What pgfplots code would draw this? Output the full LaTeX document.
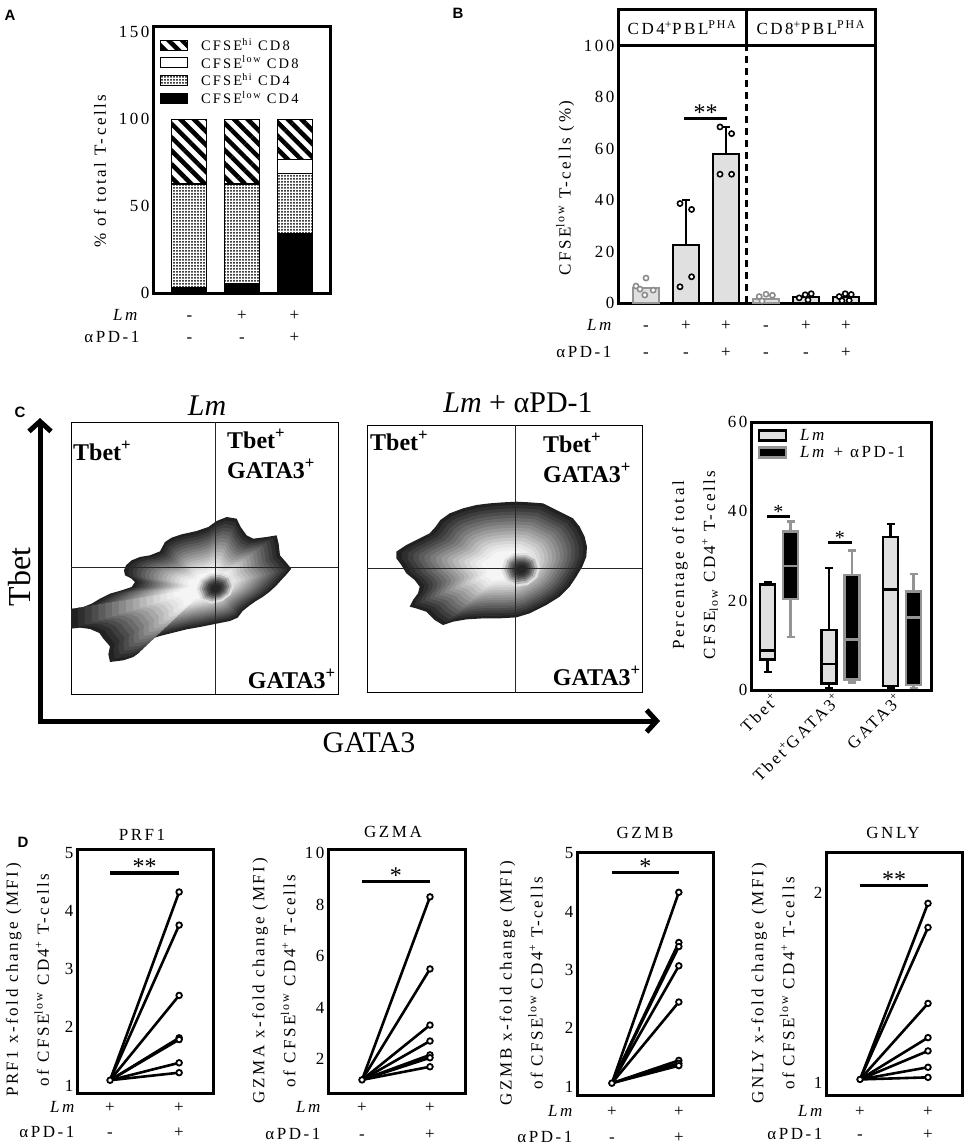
\documentclass[border=0pt]{standalone}
\usepackage{fontspec}
\setmainfont{Liberation Serif}
\newfontfamily\trk{Liberation Serif}[LetterSpace=15]
\newfontfamily\lsans{Liberation Sans}
\usepackage{pgfplots}
\usepackage{pgfplotstable}
\pgfplotsset{compat=1.18}
\usepgfplotslibrary{statistics}
\usetikzlibrary{patterns.meta,arrows.meta}

\newcommand{\tf}{\trk\fontsize{17}{20}\selectfont}
\newcommand{\tftwo}{\trk\fontsize{17}{31}\selectfont}
\newcommand{\starf}{\fontsize{24}{24}\selectfont}

\tikzset{sig/.style={line width=3.5pt}}
\pgfplotsset{
 myax/.style={scale only axis, anchor=north west, axis line style={line width=3pt},
   major tick length=0pt, tick style={draw=none},
   /pgf/number format/assume math mode=true,
   tick label style={font=\tf}, ylabel style={font=\tf}, clip=false},
 boxleg/.style={legend image code/.code={\draw[##1] (0pt,-5pt) rectangle (27pt,5pt); \path (38pt,0pt);}},
 pair/.style={black, line width=2.6pt, mark=none, forget plot},
 dots/.style={only marks, mark=*, mark size=2.8pt, mark options={fill=white, draw=black, line width=1.8pt}, forget plot},
 flowax/.style={scale only axis, anchor=north west, xtick=\empty, ytick=\empty, y dir=reverse, axis line style={line width=1pt}, clip=true},
}

% outlines of the density plots (reference pixel coordinates, 3x)
\pgfplotstableread{
x y
213 715
245 712
275 700
300 685
330 670
365 660
395 650
405 635
395 625
375 615
372 600
378 585
395 570
420 560
450 555
480 543
495 515
515 502
545 492
590 482
625 470
650 452
680 440
710 445
722 470
740 495
760 505
800 500
830 495
836 520
840 555
860 578
874 595
860 612
845 628
828 647
808 665
788 680
768 692
748 706
728 722
713 742
690 752
650 760
600 770
560 777
520 787
480 797
450 807
430 827
418 847
400 860
370 870
330 875
325 852
330 828
310 805
298 788
270 776
240 772
213 775
}\blobA
\pgfplotstableread{
x y
590 655
602 627
630 610
662 607
692 618
703 645
692 673
667 692
635 700
604 690
}\spotA
\pgfplotstableread{
x y
200 545
230 525
270 505
300 490
318 470
332 450
360 430
400 415
440 405
480 400
520 397
560 395
600 397
640 400
670 415
700 430
730 445
750 470
765 500
772 530
770 560
758 590
740 620
720 650
690 680
650 705
600 730
560 742
510 745
460 745
410 748
370 755
340 765
315 750
290 725
260 715
240 710
250 690
265 670
270 650
255 630
230 610
215 585
200 565
}\blobB
\pgfplotstableread{
x y
515 600
526 567
553 549
592 549
622 563
632 592
622 623
594 645
558 650
529 632
}\spotB

\newcommand{\blob}[5]{\addplot[fill=#5, draw=none] table[x expr={#2+#4*(\thisrow{x}-#2)}, y expr={#3+#4*(\thisrow{y}-#3)}] {#1};}
\newcommand{\blobset}[3]{%
 \blob{#1}{#2}{#3}{1.00}{black!87}%
 \blob{#1}{#2}{#3}{0.95}{black!82}%
 \blob{#1}{#2}{#3}{0.90}{black!76}%
 \blob{#1}{#2}{#3}{0.85}{black!70}%
 \blob{#1}{#2}{#3}{0.80}{black!64}%
 \blob{#1}{#2}{#3}{0.75}{black!58}%
 \blob{#1}{#2}{#3}{0.70}{black!52}%
 \blob{#1}{#2}{#3}{0.65}{black!46}%
 \blob{#1}{#2}{#3}{0.60}{black!40}%
 \blob{#1}{#2}{#3}{0.55}{black!34}%
 \blob{#1}{#2}{#3}{0.50}{black!28}%
 \blob{#1}{#2}{#3}{0.45}{black!22}%
 \blob{#1}{#2}{#3}{0.40}{black!16}%
 \blob{#1}{#2}{#3}{0.35}{black!11}%
 \blob{#1}{#2}{#3}{0.30}{black!7}%
 \blob{#1}{#2}{#3}{0.25}{black!4}%
}
\newcommand{\spotset}[3]{%
 \blob{#1}{#2}{#3}{1.00}{black!12}%
 \blob{#1}{#2}{#3}{0.86}{black!28}%
 \blob{#1}{#2}{#3}{0.73}{black!45}%
 \blob{#1}{#2}{#3}{0.61}{black!60}%
 \blob{#1}{#2}{#3}{0.49}{black!72}%
 \blob{#1}{#2}{#3}{0.37}{black!80}%
 \blob{#1}{#2}{#3}{0.25}{black!85}%
}

\begin{document}
\begin{tikzpicture}
\path[use as bounding box] (0pt,0pt) rectangle (967pt,-1148pt);

% ---------------- A ----------------
\begin{axis}[myax, at={(153pt,-27pt)}, width=177pt, height=266pt,
  xmin=-0.695, xmax=2.676, ymin=0, ymax=153, ytick={0,50,100,150}, xtick=\empty,
  ybar stacked, bar width=35pt,
  ylabel={\% of total T-cells}, ylabel style={at={(axis description cs:-0.30,0.459)}, anchor=center},
  legend style={at={(axis cs:-0.62,149)}, anchor=north west, draw=none, fill=none,
    font=\trk\fontsize{14.5}{17}\selectfont, cells={anchor=west}, row sep=0pt},
  reverse legend]
\addplot[boxleg, fill=black, draw=black, line width=1pt] coordinates {(0,3) (1,5.4) (2,34.5)};
\addplot[boxleg, pattern={Dots[distance=3pt,radius=1pt]}, draw=black, line width=1pt] coordinates {(0,59.5) (1,57) (2,34.3)};
\addplot[boxleg, fill=white, draw=black, line width=1pt] coordinates {(0,0.5) (1,0.6) (2,8)};
\addplot[boxleg, pattern={Lines[angle=-45,distance=9.5pt,line width=4.5pt]}, draw=black, line width=1pt] coordinates {(0,37) (1,37) (2,23.2)};
\legend{CFSE\textsuperscript{low} CD4, CFSE\textsuperscript{hi} CD4, CFSE\textsuperscript{low} CD8, CFSE\textsuperscript{hi} CD8}
\end{axis}

% ---------------- B ----------------
\begin{axis}[myax, at={(618pt,-10pt)}, width=257pt, height=293pt,
  xmin=-0.7, xmax=5.725, ymin=0, ymax=114, ytick={0,20,40,60,80,100}, xtick=\empty,
  ylabel={CFSE\textsuperscript{low} T-cells (\%)}, ylabel style={at={(axis description cs:-0.206,0.392)}, anchor=center}]
\addplot[ybar, bar shift=0pt, bar width=26pt, fill=black!12, draw=black!42, line width=2.5pt] coordinates {(0,5.8) (3,1.5)};
\addplot[ybar, bar shift=0pt, bar width=26pt, fill=black!12, draw=black, line width=2.5pt] coordinates {(1,22.5) (2,57.9) (4,2.3) (5,2.3)};
\addplot[draw=none, forget plot, error bars/.cd, y dir=plus, y explicit,
  error bar style={draw=black, line width=2.5pt},
  error mark options={draw=black, rotate=90, mark size=4pt, line width=2.5pt}]
  coordinates {(1,22.5) +- (0,17.5) (2,57.9) +- (0,10.6)};
\addplot[only marks, mark=*, mark size=2.6pt, mark options={fill=white, draw=black!45, line width=1.6pt}]
  coordinates {(-0.25,6.6) (0,9.7) (0.18,5.0) (-0.03,3.1) (-0.15,5.4) (2.83,2.5) (3.0,3.4) (3.16,3.0) (2.9,0.8)};
\addplot[only marks, mark=*, mark size=2.6pt, mark options={fill=white, draw=black, line width=1.6pt}]
  coordinates {(0.85,6.3) (1.14,10.2) (0.85,38.7) (1.14,36.4) (1.85,68.5) (2.14,65.9) (1.85,50.1) (2.14,50.1)
   (3.83,2.0) (3.98,3.2) (4.13,3.6) (4.05,1.2) (4.83,2.5) (4.98,3.6) (5.13,3.3) (4.9,0.9) (5.08,1.0)};
\draw[line width=3pt] (axis cs:-0.7,100) -- (axis cs:5.725,100);
\draw[line width=3pt] (axis cs:2.5,100) -- (axis cs:2.5,114);
\draw[line width=3pt, dash pattern=on 7pt off 5pt] (axis cs:2.5,0) -- (axis cs:2.5,100);
\node[font=\tf] at (axis cs:0.9,107) {CD4\textsuperscript{+}PBL\textsuperscript{PHA}};
\node[font=\tf] at (axis cs:4.12,107) {CD8\textsuperscript{+}PBL\textsuperscript{PHA}};
\draw[sig] (axis cs:0.95,71.8) -- (axis cs:2.03,71.8);
\node[font=\starf, anchor=base] at (axis cs:1.49,71.8) [yshift=-2pt] {**};
\end{axis}

% ---------------- C: flow plots ----------------
\begin{axis}[flowax, at={(71pt,-422pt)}, width=267.3pt, height=272.3pt,
  xmin=213, xmax=1015, ymin=155, ymax=972]
\blobset{\blobA}{625}{650}
\spotset{\spotA}{647}{655}
\draw[line width=0.8pt, black!85] (axis cs:645,155) -- (axis cs:645,972);
\draw[line width=0.8pt, black!85] (axis cs:213,592) -- (axis cs:1015,592);
\end{axis}
\begin{axis}[flowax, at={(367pt,-425pt)}, width=275.3pt, height=267.7pt,
  xmin=112, xmax=938, ymin=165, ymax=968]
\blobset{\blobB}{540}{590}
\spotset{\spotB}{575}{598}
\draw[line width=0.8pt, black!85] (axis cs:557,165) -- (axis cs:557,968);
\draw[line width=0.8pt, black!85] (axis cs:112,595) -- (axis cs:938,595);
\end{axis}

% ---------------- C: box plot ----------------
\begin{axis}[myax, at={(751pt,-422pt)}, width=180pt, height=268pt,
  xmin=0.545, xmax=3.47, ymin=0, ymax=60, ytick={0,20,40,60}, xtick={1,2,3},
  xticklabels={Tbet\textsuperscript{+}, Tbet\textsuperscript{+}GATA3\textsuperscript{+}, GATA3\textsuperscript{+}},
  xticklabel style={xshift=-8pt, rotate=45, anchor=north east, font=\tf, inner sep=1pt},
  ylabel={Percentage of total\\CFSE\textsubscript{low} CD4\textsuperscript{+} T-cells},
  ylabel style={font=\tftwo, align=center, at={(axis description cs:-0.311,0.466)}, anchor=center},
  boxplot/draw direction=y,
  legend style={at={(axis cs:0.6,59.3)}, anchor=north west, draw=none, fill=none, font=\tf, cells={anchor=west}, row sep=0pt}]
\addlegendimage{boxleg, draw=black, fill=black!12, line width=2.5pt}
\addlegendentry{\textit{Lm}}
\addlegendimage{boxleg, draw=black!42, fill=black, line width=2.5pt}
\addlegendentry{\textit{Lm} + αPD-1}
\addplot[forget plot, draw=black, fill=black!12, line width=2.5pt, boxplot prepared={draw position=0.813, lower whisker=4.0, lower quartile=6.8, median=8.8, upper quartile=23.6, upper whisker=24.2, box extend=0.244, whisker extend=0.13}] coordinates {};
\addplot[forget plot, draw=black!42, fill=black, line width=2.5pt, boxplot prepared={draw position=1.187, lower whisker=11.9, lower quartile=20.4, median=27.8, upper quartile=35.5, upper whisker=37.7, box extend=0.244, whisker extend=0.13}] coordinates {};
\addplot[forget plot, draw=black, fill=black!12, line width=2.5pt, boxplot prepared={draw position=1.813, lower whisker=0.4, lower quartile=1.4, median=5.8, upper quartile=13.4, upper whisker=27.3, box extend=0.244, whisker extend=0.13}] coordinates {};
\addplot[forget plot, draw=black!42, fill=black, line width=2.5pt, boxplot prepared={draw position=2.187, lower whisker=1.7, lower quartile=2.3, median=11.3, upper quartile=25.8, upper whisker=31.2, box extend=0.244, whisker extend=0.13}] coordinates {};
\addplot[forget plot, draw=black, fill=black!12, line width=2.5pt, boxplot prepared={draw position=2.813, lower whisker=0.4, lower quartile=0.9, median=22.5, upper quartile=34.2, upper whisker=37.2, box extend=0.244, whisker extend=0.13}] coordinates {};
\addplot[forget plot, draw=black!42, fill=black, line width=2.5pt, boxplot prepared={draw position=3.187, lower whisker=0.4, lower quartile=1.1, median=16.2, upper quartile=22.0, upper whisker=26.0, box extend=0.244, whisker extend=0.13}] coordinates {};
\draw[line width=3pt] (axis cs:0.805,38.9) -- (axis cs:1.179,38.9);
\node[font=\fontsize{20}{20}\selectfont, anchor=base] at (axis cs:0.99,38.9) [yshift=-2pt] {*};
\draw[line width=3pt] (axis cs:1.797,33.0) -- (axis cs:2.187,33.0);
\node[font=\fontsize{20}{20}\selectfont, anchor=base] at (axis cs:1.99,33.0) [yshift=-2pt] {*};
\end{axis}

% ---------------- D ----------------
\begin{axis}[myax, at={(77pt,-849pt)}, width=136pt, height=244pt,
  xmin=-0.478, xmax=1.49, ymin=0.87, ymax=5.07, ytick={1,2,3,4,5}, xtick=\empty,
  ylabel={PRF1 x-fold change (MFI)\\of CFSE\textsuperscript{low} CD4\textsuperscript{+} T-cells},
  ylabel style={font=\tftwo, align=center, at={(axis description cs:-0.364,0.463)}, anchor=center}]
\addplot[pair] coordinates {(0,1.09) (1,4.33)};
\addplot[pair] coordinates {(0,1.09) (1,3.76)};
\addplot[pair] coordinates {(0,1.09) (1,2.55)};
\addplot[pair] coordinates {(0,1.09) (1,1.82)};
\addplot[pair] coordinates {(0,1.09) (1,1.79)};
\addplot[pair] coordinates {(0,1.09) (1,1.39)};
\addplot[pair] coordinates {(0,1.09) (1,1.22)};
\addplot[dots] coordinates {(0,1.09) (1,4.33) (1,3.76) (1,2.55) (1,1.82) (1,1.79) (1,1.39) (1,1.22)};
\draw[sig] (axis cs:0,4.66) -- (axis cs:1,4.66);
\node[font=\starf, anchor=base] at (axis cs:0.5,4.66) [yshift=-2pt] {**};
\end{axis}

\begin{axis}[myax, at={(328pt,-849pt)}, width=137pt, height=244pt,
  xmin=-0.5, xmax=1.515, ymin=0.68, ymax=10.16, ytick={2,4,6,8,10}, xtick=\empty,
  ylabel={GZMA x-fold change (MFI)\\of CFSE\textsuperscript{low} CD4\textsuperscript{+} T-cells},
  ylabel style={font=\tftwo, align=center, at={(axis description cs:-0.394,0.46)}, anchor=center}]
\addplot[pair] coordinates {(0,1.19) (1,8.30)};
\addplot[pair] coordinates {(0,1.19) (1,5.50)};
\addplot[pair] coordinates {(0,1.19) (1,3.32)};
\addplot[pair] coordinates {(0,1.19) (1,2.70)};
\addplot[pair] coordinates {(0,1.19) (1,2.16)};
\addplot[pair] coordinates {(0,1.19) (1,2.05)};
\addplot[pair] coordinates {(0,1.19) (1,1.70)};
\addplot[dots] coordinates {(0,1.19) (1,8.30) (1,5.50) (1,3.32) (1,2.70) (1,2.16) (1,2.05) (1,1.70)};
\draw[sig] (axis cs:0,8.89) -- (axis cs:1,8.89);
\node[font=\starf, anchor=base] at (axis cs:0.5,8.89) [yshift=-2pt] {*};
\end{axis}

\begin{axis}[myax, at={(577pt,-852pt)}, width=136pt, height=243pt,
  xmin=-0.52, xmax=1.51, ymin=0.857, ymax=5.02, ytick={1,2,3,4,5}, xtick=\empty,
  ylabel={GZMB x-fold change (MFI)\\of CFSE\textsuperscript{low} CD4\textsuperscript{+} T-cells},
  ylabel style={font=\tftwo, align=center, at={(axis description cs:-0.41,0.46)}, anchor=center}]
\addplot[pair] coordinates {(0,1.06) (1,4.33)};
\addplot[pair] coordinates {(0,1.06) (1,3.47)};
\addplot[pair] coordinates {(0,1.06) (1,3.40)};
\addplot[pair] coordinates {(0,1.06) (1,3.07)};
\addplot[pair] coordinates {(0,1.06) (1,2.45)};
\addplot[pair] coordinates {(0,1.06) (1,1.45)};
\addplot[pair] coordinates {(0,1.06) (1,1.40)};
\addplot[pair] coordinates {(0,1.06) (1,1.36)};
\addplot[dots] coordinates {(0,1.06) (1,4.33) (1,3.47) (1,3.40) (1,3.07) (1,2.45) (1,1.45) (1,1.40) (1,1.36)};
\draw[sig] (axis cs:0,4.67) -- (axis cs:1,4.67);
\node[font=\starf, anchor=base] at (axis cs:0.5,4.67) [yshift=-2pt] {*};
\end{axis}

\begin{axis}[myax, at={(826pt,-852pt)}, width=136pt, height=243pt,
  xmin=-0.5, xmax=1.5, ymin=0.938, ymax=2.217, ytick={1,2}, xtick=\empty,
  ylabel={GNLY x-fold change (MFI)\\of CFSE\textsuperscript{low} CD4\textsuperscript{+} T-cells},
  ylabel style={font=\tftwo, align=center, at={(axis description cs:-0.39,0.46)}, anchor=center}]
\addplot[pair] coordinates {(0,1.02) (1,1.947)};
\addplot[pair] coordinates {(0,1.02) (1,1.82)};
\addplot[pair] coordinates {(0,1.02) (1,1.42)};
\addplot[pair] coordinates {(0,1.02) (1,1.24)};
\addplot[pair] coordinates {(0,1.02) (1,1.17)};
\addplot[pair] coordinates {(0,1.02) (1,1.084)};
\addplot[pair] coordinates {(0,1.02) (1,1.031)};
\addplot[dots] coordinates {(0,1.02) (1,1.947) (1,1.82) (1,1.42) (1,1.24) (1,1.17) (1,1.084) (1,1.031)};
\draw[sig] (axis cs:0,2.04) -- (axis cs:1,2.04);
\node[font=\starf, anchor=base] at (axis cs:0.5,2.04) [yshift=-2pt] {**};
\end{axis}

% ---------------- texts in figure pixels ----------------
\begin{scope}[x=1pt,y=-1pt]
\node[font=\lsans\bfseries\fontsize{15}{15}\selectfont] at (10,15) {A};
\node[font=\lsans\bfseries\fontsize{15}{15}\selectfont] at (458,13) {B};
\node[font=\lsans\bfseries\fontsize{15}{15}\selectfont] at (20,412) {C};
\node[font=\lsans\bfseries\fontsize{15}{15}\selectfont] at (23,842) {D};
% A rows
\node[font=\tf\itshape, anchor=base east] at (141,320) {Lm};
\node[font=\tf, anchor=base east] at (143,342) {αPD-1};
\foreach \x/\a/\b in {189.5/-/-, 242/+/-, 294.5/+/+} {
  \node[font=\tf, anchor=base] at (\x,320) {\a};
  \node[font=\tf, anchor=base] at (\x,342) {\b};}
% B rows
\node[font=\tf\itshape, anchor=base east] at (615,330) {Lm};
\node[font=\tf, anchor=base east] at (615,357) {αPD-1};
\foreach \x/\a/\b in {646/-/-, 686/+/-, 726/+/+, 766/-/-, 806/+/-, 846/+/+} {
  \node[font=\tf, anchor=base] at (\x,330) {\a};
  \node[font=\tf, anchor=base] at (\x,357) {\b};}
% C flow
\draw[line width=5pt, -{Straight Barb[length=10pt,width=22pt]}] (40,724) -- (40,418);
\draw[line width=5pt, -{Straight Barb[length=10pt,width=22pt]}] (37.5,721) -- (660,721);
\node[font=\fontsize{32}{32}\selectfont, rotate=90] at (20,577) {Tbet};
\node[font=\fontsize{30}{30}\selectfont] at (369,743) {GATA3};
\node[font=\fontsize{30}{30}\selectfont] at (207,406) {\textit{Lm}};
\node[font=\fontsize{30}{30}\selectfont] at (518,403) {\textit{Lm} + αPD-1};
\begin{scope}[every node/.style={font=\fontsize{24}{24}\selectfont\bfseries, inner sep=0pt}]
\node[anchor=base west] at (73,460) {Tbet\textsuperscript{+}};
\node[anchor=base west] at (227,448) {Tbet\textsuperscript{+}};
\node[anchor=base west] at (227,478) {GATA3\textsuperscript{+}};
\node[anchor=base east] at (336,688) {GATA3\textsuperscript{+}};
\node[anchor=base west] at (370,450) {Tbet\textsuperscript{+}};
\node[anchor=base west] at (543,452) {Tbet\textsuperscript{+}};
\node[anchor=base west] at (543,482) {GATA3\textsuperscript{+}};
\node[anchor=base east] at (641,685) {GATA3\textsuperscript{+}};
\end{scope}
% D titles
\node[font=\tf] at (142,835) {PRF1};
\node[font=\tf] at (393,832) {GZMA};
\node[font=\tf] at (645,833) {GZMB};
\node[font=\tf] at (893,833) {GNLY};
% D rows
\foreach \e/\xa/\xb/\ya/\yb in {78/110/179/1112/1137, 324/362/430/1112/1139, 576/612/679/1116/1142, 826/860/928/1116/1139} {
  \node[font=\tf\itshape, anchor=base east] at (\e,\ya) {Lm};
  \node[font=\tf, anchor=base east] at (\e,\yb) {αPD-1};
  \node[font=\tf, anchor=base] at (\xa,\ya) {+};
  \node[font=\tf, anchor=base] at (\xb,\ya) {+};
  \node[font=\tf, anchor=base] at (\xa,\yb) {-};
  \node[font=\tf, anchor=base] at (\xb,\yb) {+};}
\end{scope}
\end{tikzpicture}
\end{document}
